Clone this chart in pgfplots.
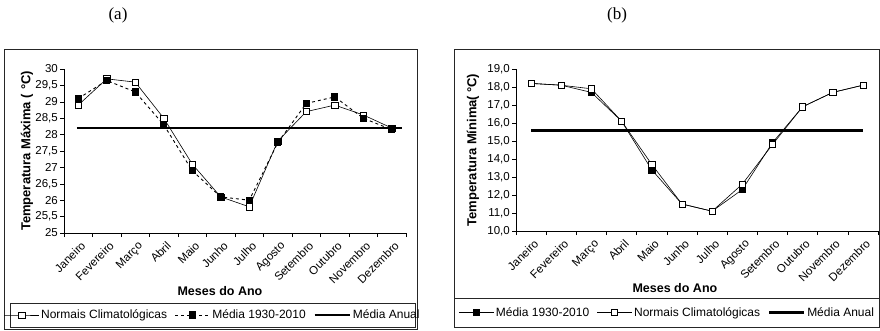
\documentclass[border=0pt]{standalone}
\usepackage{pgfplots}
\pgfplotsset{compat=1.18}
\usepackage{fontspec}
\setmainfont{Liberation Sans}
\newfontfamily\titlefont{Liberation Serif}
\pgfplotsset{
  common/.style={
    scale only axis,
    xmin=0, xmax=12,
    axis lines*=left,
    axis line style={-, line width=0.6pt},
    tick align=outside,
    xtick={0.5,1.5,...,11.5},
    xticklabels={Janeiro,Fevereiro,Março,Abril,Maio,Junho,Julho,Agosto,Setembro,Outubro,Novembro,Dezembro},
    major x tick style={draw=none},
    minor xtick={0,1,...,12},
    minor tick length=4pt,
    major tick length=4pt,
    every tick/.style={black, line width=0.6pt},
    xticklabel style={rotate=45, anchor=north east, inner sep=1pt, yshift=-3pt, font=\fontsize{11.5}{13}\selectfont},
    yticklabel style={font=\fontsize{11.5}{13}\selectfont, inner sep=2pt},
    /pgf/number format/assume math mode=true,
    /pgf/number format/use comma,
    xlabel style={font=\bfseries\fontsize{12.5}{14}\selectfont, anchor=center},
    ylabel style={font=\bfseries\fontsize{13}{15}\selectfont, anchor=center},
    legend columns=3,
    legend style={draw=none, fill=none, anchor=center, font=\fontsize{12}{14}\selectfont,
      nodes={inner xsep=1.5pt},
      /tikz/every even column/.append style={column sep=6pt}},
    legend image code/.code={\draw[mark repeat=2,mark phase=2,##1] plot coordinates {(0cm,0cm)(0.62cm,0cm)(1.24cm,0cm)};},
    clip=false,
  },
  normais/.style={black, line width=0.6pt, mark=square*, mark size=3.1pt, mark options={fill=white, solid, line width=0.6pt}},
  media/.style={black, line width=0.6pt, mark=square*, mark size=3.1pt, mark options={fill=black, solid}},
  anual/.style={black, line width=2.8pt, no marks},
}
\begin{document}
\begin{tikzpicture}[x=1pt,y=1pt]
\useasboundingbox (0,0) rectangle (880,330);
% frames
\draw[line width=0.8pt, black!85] (4,1) rectangle (417,281);
\draw[line width=0.8pt, black!85] (10,3) rectangle (415,27);
\draw[line width=0.8pt, black!85] (454,3) rectangle (879.5,281);
\draw[line width=0.8pt, black!85] (454,32) -- (879.5,32);
\node[font=\titlefont\fontsize{17}{19}\selectfont] at (118,315) {(a)};
\node[font=\titlefont\fontsize{17}{19}\selectfont] at (617,315) {(b)};

\begin{axis}[common,
  at={(64pt,97pt)}, anchor=south west,
  width=342pt, height=164pt,
  ymin=25, ymax=30, ytick distance=0.5,
  yticklabel style={/pgf/number format/precision=1},
  xlabel={Meses do Ano},
  ylabel={Temperatura Máxima (\hspace{4pt}°C)},
  xlabel style={at={(axis description cs:0.456,-0.354)}},
  ylabel style={at={(axis description cs:-0.108,0.5)}},
  legend style={at={(axis description cs:0.434,-0.5)}},
]
\addplot[normais] coordinates {(0.5,28.9)(1.5,29.7)(2.5,29.6)(3.5,28.5)(4.5,27.1)(5.5,26.1)(6.5,25.8)(7.5,27.8)(8.5,28.7)(9.5,28.9)(10.5,28.6)(11.5,28.2)};
\addlegendentry{Normais Climatológicas}
\addplot[media, dash pattern=on 3pt off 3pt, line width=0.9pt] coordinates {(0.5,29.1)(1.5,29.65)(2.5,29.3)(3.5,28.3)(4.5,26.9)(5.5,26.1)(6.5,26.0)(7.5,27.75)(8.5,28.95)(9.5,29.15)(10.5,28.5)(11.5,28.15)};
\addlegendentry{Média 1930-2010}
\addplot[anual] coordinates {(0.45,28.2)(11.85,28.2)};
\addlegendentry{Média Anual}
\end{axis}

\begin{axis}[common,
  at={(516pt,99pt)}, anchor=south west,
  width=362pt, height=162pt,
  ymin=10, ymax=19, ytick distance=1,
  yticklabel style={/pgf/number format/fixed, /pgf/number format/fixed zerofill, /pgf/number format/precision=1},
  xlabel={Meses do Ano},
  ylabel={Temperatura Mínima(\hspace{3pt}°C)},
  xlabel style={at={(axis description cs:0.439,-0.352)}},
  ylabel style={at={(axis description cs:-0.119,0.5)}},
  legend style={at={(axis description cs:0.417,-0.503)}},
]
\addplot[media] coordinates {(0.5,18.2)(1.5,18.1)(2.5,17.7)(3.5,16.1)(4.5,13.4)(5.5,11.5)(6.5,11.1)(7.5,12.3)(8.5,14.9)(9.5,16.9)(10.5,17.7)(11.5,18.1)};
\addlegendentry{Média 1930-2010}
\addplot[normais] coordinates {(0.5,18.2)(1.5,18.1)(2.5,17.9)(3.5,16.1)(4.5,13.7)(5.5,11.5)(6.5,11.1)(7.5,12.6)(8.5,14.8)(9.5,16.9)(10.5,17.7)(11.5,18.1)};
\addlegendentry{Normais Climatológicas}
\addplot[anual] coordinates {(0.5,15.6)(11.5,15.6)};
\addlegendentry{Média Anual}
\end{axis}
\end{tikzpicture}
\end{document}
